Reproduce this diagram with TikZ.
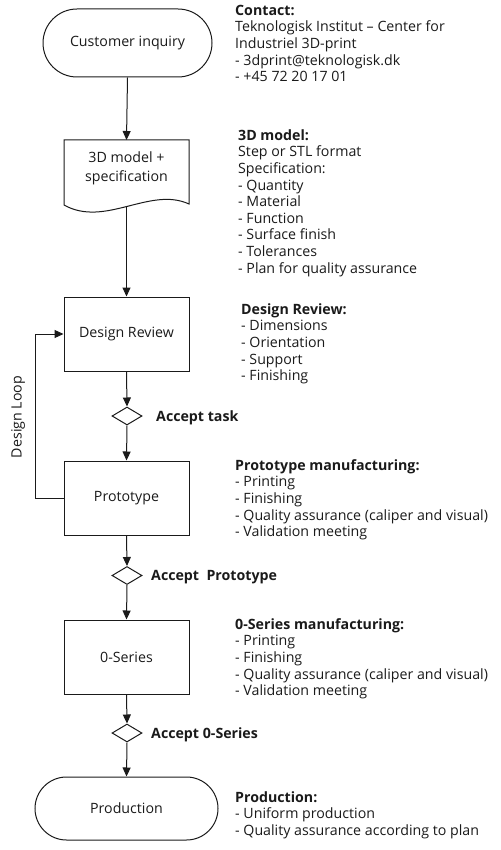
\documentclass[tikz,border=0pt]{standalone}
\usepackage{fontspec}
\setmainfont{Open Sans}
\usetikzlibrary{shapes.geometric,arrows.meta}
\definecolor{ink}{HTML}{1A1A1A}
\begin{document}
\begin{tikzpicture}[x=1pt,y=-1pt,
  font=\fontsize{14.2}{16.6}\selectfont,
  shapeline/.style={draw=ink, line width=1pt},
  box/.style={shapeline, rectangle, minimum width=125pt, minimum height=74pt, inner sep=0pt, text=ink},
  term/.style={shapeline, rectangle, inner sep=0pt, text=ink},
  dia/.style={shapeline, diamond, minimum width=30pt, minimum height=18pt, inner sep=0pt},
  conn/.style={draw=ink, line width=1pt, -{Triangle[length=9pt,width=8pt]}},
  info/.style={anchor=north west, align=left, inner sep=0pt, text=ink},
  lbl/.style={anchor=base west, inner sep=0pt, text=ink, font=\fontsize{14.2}{16.6}\selectfont\bfseries}
]
\useasboundingbox (0,0) rectangle (500,850);

% nodes
\node[term, minimum width=169pt, minimum height=68pt, rounded corners=34pt] (ci) at (127.5,43) {Customer inquiry};

\coordinate (docT) at (126.5,140);
\coordinate (docB) at (126.5,206.4);
\draw[shapeline] (64,140) -- (189,140) -- (189,204)
   .. controls (150,186) and (105,228) .. (64,205) -- cycle;
\node[align=center, inner sep=0pt, text=ink, font=\fontsize{14.2}{19}\selectfont] (doc) at (126.5,168) {3D model +\\specification};

\node[box] (dr) at (126.5,334) {Design Review};
\node[dia] (d1) at (127,416) {};
\node[box] (pr) at (126.5,498) {Prototype};
\node[dia] (d2) at (127,575.5) {};
\node[box] (zs) at (126.5,657) {0-Series};
\node[dia] (d3) at (127,733) {};
\node[term, minimum width=183pt, minimum height=63pt, rounded corners=31.5pt] (prod) at (126.5,808.5) {Production};

% connectors
\draw[conn] (ci.south) -- (docT);
\draw[conn] (docB) -- (dr.north);
\draw[conn] (dr.south) -- (d1.north);
\draw[conn] (d1.south) -- (pr.north);
\draw[conn] (pr.south) -- (d2.north);
\draw[conn] (d2.south) -- (zs.north);
\draw[conn] (zs.south) -- (d3.north);
\draw[conn] (d3.south) -- (prod.north);
\coordinate (loopc) at (35,498);
\draw[conn] (pr.west) -- (loopc) |- (dr.west);
\node[rotate=90, inner sep=0pt, text=ink] (loopl) at (18,417) {Design Loop};

% decision labels
\node[lbl] (l1) at (156,421) {Accept task};
\node[lbl] (l2) at (151,580.5) {Accept\ \ Prototype};
\node[lbl] (l3) at (151,738) {Accept 0-Series};

% info texts
\node[info] (t1) at (235,3.4) {\strut\textbf{Contact:}\\Teknologisk Institut – Center for\\Industriel 3D-print\\- 3dprint@teknologisk.dk\\- +45 72 20 17 01};
\node[info] (t2) at (238,128.4) {\strut\textbf{3D model:}\\Step or STL format\\Specification:\\- Quantity\\- Material\\- Function\\- Surface finish\\- Tolerances\\- Plan for quality assurance};
\node[info] (t3) at (241,302.4) {\strut\textbf{Design Review:}\\- Dimensions\\- Orientation\\- Support\\- Finishing};
\node[info] (t4) at (235,458.4) {\strut\textbf{Prototype manufacturing:}\\- Printing\\- Finishing\\- Quality assurance (caliper and visual)\\- Validation meeting};
\node[info] (t5) at (235,617.4) {\strut\textbf{0-Series manufacturing:}\\- Printing\\- Finishing\\- Quality assurance (caliper and visual)\\- Validation meeting};
\node[info] (t6) at (235,790.4) {\strut\textbf{Production:}\\- Uniform production\\- Quality assurance according to plan};
\end{tikzpicture}
\end{document}
